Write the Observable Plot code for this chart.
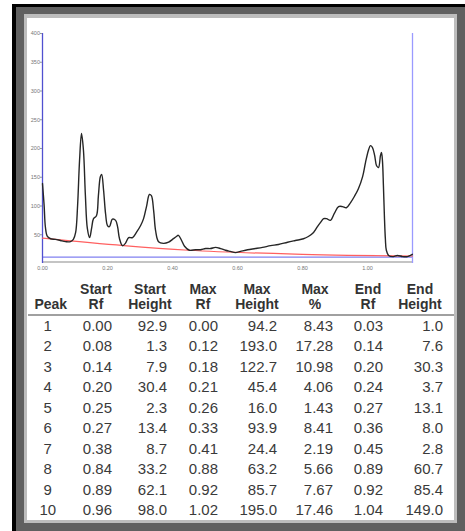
<!DOCTYPE html>
<html>
<head>
<meta charset="utf-8">
<script src="https://cdn.jsdelivr.net/npm/d3@7"></script>
<script src="https://cdn.jsdelivr.net/npm/@observablehq/plot@0.6"></script>
<style>
  html, body { margin: 0; padding: 0; background: #fff; }
  body { width: 465px; height: 531px; position: relative; overflow: hidden; font-family: "Liberation Sans", Arial, sans-serif; }
  .box { position: absolute; }
  #chart { position: absolute; left: 27px; top: 18px; }
  table { position: absolute; left: 28px; top: 282px; border-collapse: collapse; table-layout: fixed; color: #333; }
  th { font-size: 14px; font-weight: bold; line-height: 15px; padding: 0 0 1.5px 0; text-align: center; vertical-align: bottom; border-bottom: 2px solid #a0a0a0; }
  td { font-size: 15px; line-height: 20.5px; height: 20.5px; padding: 0; text-align: right; color: #3a3a3a; }
</style>
</head>
<body>
<div class="box" style="left:12px;top:4px;width:453px;height:527px;background:#000"></div>
<div class="box" style="left:16px;top:7px;width:449px;height:524px;background:#606060"></div>
<div class="box" style="left:24px;top:14px;width:433px;height:509px;background:#bdbdbd"></div>
<div class="box" style="left:27px;top:18px;width:427px;height:502px;background:#fff"></div>
<div id="chart"></div>
<table id="tbl"></table>
<script>
// ---- chromatogram trace (Rf, intensity) ----
const traceRf = [0.000,0.005,0.009,0.015,0.025,0.040,0.055,0.071,0.086,0.095,0.102,0.108,0.114,0.120,0.126,0.132,0.138,0.145,0.151,0.157,0.166,0.172,0.178,0.182,0.188,0.194,0.200,0.206,0.215,0.225,0.231,0.237,0.246,0.255,0.265,0.277,0.289,0.302,0.311,0.320,0.329,0.335,0.342,0.348,0.357,0.372,0.388,0.400,0.412,0.418,0.428,0.437,0.452,0.471,0.486,0.502,0.517,0.532,0.548,0.563,0.578,0.594,0.609,0.631,0.655,0.677,0.702,0.726,0.754,0.778,0.803,0.818,0.834,0.846,0.855,0.865,0.874,0.886,0.898,0.911,0.923,0.935,0.948,0.960,0.972,0.985,0.994,1.003,1.009,1.015,1.022,1.028,1.034,1.040,1.043,1.046,1.049,1.052,1.055,1.058,1.065,1.077,1.092,1.108,1.123,1.138];
const traceVal = [139,101,63,47,43,42,40,38,38,42,54,101,179,226,197,118,61,45,61,78,83,118,151,155,127,87,66,64,77,75,64,43,31,35,45,45,54,66,78,99,120,118,92,57,38,35,37,42,47,49,40,30,23,24,24,26,26,28,26,23,21,19,21,24,26,28,31,33,37,40,43,47,54,64,71,78,78,75,87,99,99,97,106,117,130,151,176,197,205,202,188,170,167,188,193,179,136,83,43,23,14,12,14,12,12,16];
// ---- baseline (red) ----
const baseRf = [0, 0.25, 0.45, 0.8, 1.1385];
const baseVal = [44, 31, 23, 16, 13];
// ---- threshold (blue) ----
const threshold = [11];
// ---- axis ----
const xDomain = [0, 1.1385];
const xTicks = [0, 0.2, 0.4, 0.6, 0.8, 1.0];
const yTicks = [50, 100, 150, 200, 250, 300, 350, 400];

// ---- peak table ----
const peak        = [1,2,3,4,5,6,7,8,9,10];
const startRf     = [0.00,0.08,0.14,0.20,0.25,0.27,0.38,0.84,0.89,0.96];
const startHeight = [92.9,1.3,7.9,30.4,2.3,13.4,8.7,33.2,62.1,98.0];
const maxRf       = [0.00,0.12,0.18,0.21,0.26,0.33,0.41,0.88,0.92,1.02];
const maxHeight   = [94.2,193.0,122.7,45.4,16.0,93.9,24.4,63.2,85.7,195.0];
const maxPct      = [8.43,17.28,10.98,4.06,1.43,8.41,2.19,5.66,7.67,17.46];
const endRf       = [0.03,0.14,0.20,0.24,0.27,0.36,0.45,0.89,0.92,1.04];
const endHeight   = [1.0,7.6,30.3,3.7,13.1,8.0,2.8,60.7,85.4,149.0];
const headers = [["","Peak"],["Start","Rf"],["Start","Height"],["Max","Rf"],["Max","Height"],["Max","%"],["End","Rf"],["End","Height"]];

const trace = traceRf.map((x, i) => ({x, y: traceVal[i]}));
const base = baseRf.map((x, i) => ({x, y: baseVal[i]}));

const plot = Plot.plot({
  width: 427,
  height: 256,
  marginLeft: 15,
  marginRight: 42,
  marginTop: 15,
  marginBottom: 11,
  style: {fontFamily: "'Liberation Sans', Arial, sans-serif", color: "#777", background: "transparent"},
  x: {domain: xDomain},
  y: {domain: [0, 400]},
  marks: [
    Plot.ruleY([0], {stroke: "#c4c4c4", strokeWidth: 2, dy: -1.5}),
    Plot.ruleY(threshold, {x1: xDomain[0], x2: xDomain[1], stroke: "#8080f0", strokeWidth: 1.3}),
    Plot.ruleX([xDomain[0]], {y1: 0, y2: 400, stroke: "#5050d0", strokeWidth: 1.3}),
    Plot.ruleX([xDomain[1]], {y1: 0, y2: 400, stroke: "#9a9aff", strokeWidth: 1.3}),
    Plot.line(base, {x: "x", y: "y", stroke: "#ff6060", strokeWidth: 1.2, curve: "monotone-x"}),
    Plot.line(trace, {x: "x", y: "y", stroke: "#262626", strokeWidth: 1.4, curve: "catmull-rom"}),
    Plot.axisY({ticks: yTicks, tickSize: 2, tickPadding: 0.5, fontSize: 5.5, stroke: "#999", label: null}),
    Plot.axisX({ticks: xTicks, tickSize: 0, tickPadding: 2.5, fontSize: 5.5, tickFormat: d3.format(".2f"), label: null})
  ]
});
document.getElementById("chart").appendChild(plot);

// table
const widths = [41.5, 53, 55, 51, 57, 59, 47, 62.5];
const padR = [0, 10.5, 10.5, 10.5, 8.5, 11.5, 8.5, 11];
const cols = [peak, startRf, startHeight, maxRf, maxHeight, maxPct, endRf, endHeight];
const fmts = [d => String(d), d => d.toFixed(2), d => d.toFixed(1), d => d.toFixed(2), d => d.toFixed(1), d => d.toFixed(2), d => d.toFixed(2), d => d.toFixed(1)];
const tbl = document.getElementById("tbl");
const cg = document.createElement("colgroup");
widths.forEach(w => { const c = document.createElement("col"); c.style.width = w + "px"; cg.appendChild(c); });
tbl.appendChild(cg);
const hr = document.createElement("tr");
headers.forEach((h, j) => {
  const th = document.createElement("th");
  th.innerHTML = (h[0] ? h[0] : "&nbsp;") + "<br>" + h[1];
  if (j === 0) th.style.paddingLeft = "4px";
  if (j === 7) th.style.paddingRight = "5.5px";
  hr.appendChild(th);
});
tbl.appendChild(hr);
peak.forEach((_, i) => {
  const tr = document.createElement("tr");
  cols.forEach((col, j) => {
    const td = document.createElement("td");
    td.textContent = fmts[j](col[i]);
    if (j === 0) { td.style.textAlign = "center"; td.style.paddingRight = "2px"; }
    else td.style.paddingRight = padR[j] + "px";
    tr.appendChild(td);
  });
  tbl.appendChild(tr);
});
</script>
</body>
</html>
